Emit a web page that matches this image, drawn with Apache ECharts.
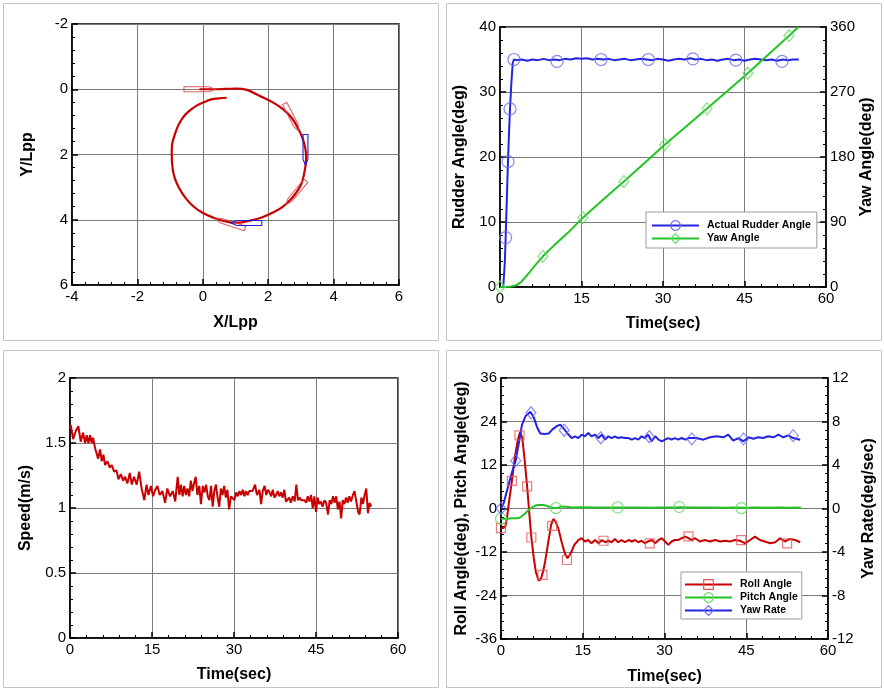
<!DOCTYPE html>
<html><head><meta charset="utf-8">
<script src="https://cdn.jsdelivr.net/npm/echarts@6/dist/echarts.min.js"></script>
<style>html,body{margin:0;padding:0;background:#fff}#c{width:884px;height:691px}</style>
</head><body><div id="c"></div>
<script>
// ---------- Panel 1: trajectory (X/Lpp, Y/Lpp) ----------
const trajectory = [[-0.1,0],[0.3,0],[0.7,-0.01],[1.02,-0.02],[1.35,0.02],[1.73,0.2],[2.1,0.38],[2.45,0.61],[2.72,0.88],[2.9,1.17],[3.05,1.5],[3.14,1.84],[3.16,2.1],[3.14,2.35],[3.09,2.63],[3.01,2.91],[2.85,3.18],[2.65,3.42],[2.42,3.62],[2.14,3.78],[1.8,3.93],[1.43,4.03],[1.1,4.09],[0.85,4.08],[0.6,4.03],[0.31,3.93],[-0.02,3.78],[-0.31,3.57],[-0.53,3.33],[-0.71,3.06],[-0.85,2.75],[-0.92,2.45],[-0.95,1.99],[-0.94,1.7],[-0.87,1.43],[-0.76,1.13],[-0.61,0.87],[-0.43,0.68],[-0.2,0.51],[0.03,0.4],[0.26,0.31],[0.5,0.28],[0.73,0.26]];
// ship poses [x, y, heading(deg)]
const redShips = [[-0.1,0,0],[2.72,0.86,63],[2.85,3.17,130],[0.84,4.12,198]];
const blueShips = [[3.14,1.86,90],[1.33,4.1,180]];

// ---------- Panel 2: rudder & yaw angle ----------
const rudderData = [[0,0],[0.6,0],[0.9,4],[1.04,7.6],[1.2,12],[1.47,19.3],[1.65,23.5],[1.84,27.4],[2.1,31.5],[2.35,34.5],[2.57,35],[3,34.9],[4,35.0],[5,34.8],[6,35.0],[7,34.9],[8,35.1],[9,34.9],[10,35.0],[11,34.9],[12,35.1],[13,35.0],[14,35.2],[15,35.1],[16,35.2],[17,35.0],[18,35.1],[19,35.0],[20,35.1],[21,34.9],[22,35.0],[23,35.1],[24,34.9],[25,35.0],[26,35.1],[27,35.0],[28,34.9],[29,35.1],[30,35.0],[31,34.8],[32,35.0],[33,35.1],[34,35.0],[35,35.2],[36,35.0],[37,35.1],[38,34.9],[39,35.0],[40,34.8],[41,35.0],[42,35.1],[43,34.9],[44,35.0],[45,34.8],[46,35.0],[47,35.1],[48,35.0],[49,34.9],[50,35.0],[51,34.8],[52,35.0],[53,34.9],[54,35.0],[55,35.0]];
const rudderMarks = [[1.04,7.6],[1.47,19.3],[1.84,27.4],[2.57,35],[10.5,34.7],[18.6,35],[27.3,35],[35.5,35.1],[43.4,34.9],[51.9,34.7]];
const yawData = [[0,0],[1,0.1],[2,0.6],[3,2.3],[3.8,6.5],[4.7,13.8],[5.5,21],[6.3,28.5],[7.1,35.5],[7.9,42.5],[10,58],[12.5,75],[15.25,96],[19,121],[22.8,146],[26.5,171],[30.3,197],[34.2,222],[38.1,247],[41.8,271],[45.6,296],[49.4,322],[53.2,348],[54.9,360]];
const yawMarks = [[0,0],[7.9,42.5],[15.25,96],[22.8,146],[30.3,197],[38.1,247],[45.6,296],[53.2,348]];

// ---------- Panel 3: speed ----------
const speedData = [[0,1.62],[0.13,1.64],[0.56,1.53],[1.04,1.59],[1.53,1.63],[1.96,1.51],[2.39,1.58],[2.76,1.50],[3.06,1.56],[3.37,1.50],[3.67,1.56],[3.98,1.50],[4.22,1.54],[4.59,1.46],[4.89,1.47],[5.14,1.38],[5.5,1.45],[5.81,1.36],[6.11,1.41],[6.42,1.33],[6.85,1.36],[7.27,1.31],[7.64,1.33],[8.07,1.28],[8.5,1.29],[8.86,1.22],[9.29,1.26],[9.72,1.21],[10.08,1.24],[10.5,1.19],[10.94,1.27],[11.3,1.18],[11.7,1.24],[12.2,1.18],[12.65,1.28],[13.1,1.15],[13.6,1.06],[14.0,1.18],[14.36,1.10],[14.8,1.17],[15.2,1.09],[15.6,1.14],[16.0,1.17],[16.4,1.10],[16.9,1.13],[17.4,1.04],[17.8,1.15],[18.3,1.09],[18.8,1.13],[19.25,1.05],[19.7,1.24],[20.0,1.10],[20.3,1.18],[20.6,1.09],[20.9,1.17],[21.2,1.10],[21.5,1.15],[21.8,1.09],[22.1,1.21],[22.4,1.13],[22.7,1.19],[23.0,1.24],[23.3,1.10],[23.65,1.17],[23.95,1.03],[24.3,1.17],[24.6,1.12],[24.9,1.18],[25.2,1.09],[25.5,1.06],[25.8,1.17],[26.1,1.01],[26.4,1.13],[26.7,1.18],[27.0,1.08],[27.3,1.01],[27.6,1.15],[27.9,1.10],[28.2,1.17],[28.5,1.08],[28.8,1.14],[29.1,0.99],[29.45,1.09],[29.75,1.10],[30.06,1.06],[30.4,1.12],[30.7,1.09],[31.0,1.13],[31.3,1.10],[31.6,1.14],[31.9,1.09],[32.2,1.13],[32.5,1.10],[32.8,1.13],[33.1,1.12],[33.4,1.13],[33.85,1.18],[34.2,1.10],[34.65,1.14],[34.95,1.03],[35.25,1.13],[35.6,1.17],[35.9,1.10],[36.2,1.14],[36.5,1.12],[36.8,1.09],[37.1,1.14],[37.4,1.08],[37.7,1.10],[38.0,1.13],[38.3,1.09],[38.6,1.12],[38.9,1.08],[39.2,1.14],[39.5,1.05],[39.8,1.06],[40.1,1.08],[40.4,1.04],[40.75,1.09],[41.1,1.05],[41.4,1.18],[41.7,1.06],[42.0,1.08],[42.3,1.06],[42.6,1.05],[42.9,1.06],[43.2,1.04],[43.5,1.09],[43.8,1.05],[44.1,1.10],[44.4,1.00],[44.7,1.09],[45.0,0.97],[45.3,1.08],[45.6,1.03],[45.9,1.05],[46.2,1.01],[46.55,1.06],[46.85,1.04],[47.2,0.95],[47.5,1.06],[47.8,1.03],[48.1,1.09],[48.4,1.04],[48.7,1.09],[49.0,0.99],[49.3,1.05],[49.6,0.92],[49.9,1.06],[50.2,1.03],[50.5,1.08],[50.8,1.04],[51.1,1.09],[51.4,1.05],[51.75,1.10],[52.05,1.13],[52.35,1.12],[52.7,0.97],[52.97,0.95],[53.3,1.08],[53.6,1.03],[53.9,1.10],[54.2,1.15],[54.5,0.96],[54.8,1.04],[55.1,1.01]];

// ---------- Panel 4: roll, pitch, yaw rate ----------
const rollData = [[0,-5.4],[0.4,-5.4],[0.8,-5.0],[1.1,-2.5],[1.4,1.0],[1.7,4.3],[2.0,7.6],[2.3,11.2],[2.6,14.8],[3.1,19.0],[3.5,21],[3.9,19.5],[4.3,14],[4.8,6],[5.2,-1.5],[5.57,-8],[6.0,-13.5],[6.4,-17.5],[6.9,-19.9],[7.3,-19.5],[7.7,-17.5],[8.1,-14.6],[8.7,-9],[9.2,-4.5],[9.6,-2.9],[10.0,-3.6],[10.5,-5.4],[11.1,-9.1],[11.7,-12.35],[12.2,-13.7],[12.8,-12.35],[13.45,-10.05],[14.2,-8.7],[14.8,-8.2],[15.4,-9.1],[16.0,-8.7],[16.6,-9.6],[17.25,-8.7],[17.9,-9.6],[18.5,-8.7],[19.1,-9.3],[19.7,-8.9],[20.3,-9.3],[20.9,-8.4],[21.5,-9.3],[22.1,-8.7],[22.75,-9.3],[23.4,-8.7],[24.0,-9.1],[24.6,-8.7],[25.2,-9.3],[25.8,-8.9],[26.4,-9.6],[27.0,-9.1],[27.65,-8.7],[28.3,-9.6],[28.9,-8.7],[29.5,-8.2],[30.1,-9.1],[30.7,-10.05],[31.3,-9.1],[31.9,-8.7],[32.5,-8.7],[33.15,-8.2],[33.8,-7.75],[34.4,-8.2],[35.0,-8.7],[35.6,-8.2],[36.5,-9.1],[37.4,-8.7],[38.35,-9.1],[39.3,-8.7],[40.2,-9.1],[41.1,-8.9],[42.0,-9.1],[42.9,-8.7],[43.85,-8.9],[44.8,-9.6],[45.7,-8.7],[46.6,-7.75],[47.5,-8.7],[48.4,-9.1],[49.4,-9.6],[50.3,-9.3],[51.2,-8.2],[52.1,-9.1],[53.0,-8.4],[53.95,-8.7],[54.9,-9.3]];
const rollMarks = [[0,-5.4],[2.0,7.6],[3.4,20.2],[4.8,6.1],[5.57,-8],[7.6,-18.3],[9.4,-4.8],[12.1,-14.2],[18.8,-8.9],[27.3,-9.6],[34.4,-7.7],[44.1,-8.7],[52.5,-9.6]];
const pitchData = [[0,-2.8],[1,-2.8],[2,-2.7],[3,-2.7],[3.5,-2.5],[3.85,-2.2],[4.3,-1.6],[4.8,-0.8],[5.2,-0.2],[5.7,0.3],[6.3,0.8],[6.9,1.0],[7.8,1.0],[8.75,0.55],[9.4,0.2],[10.1,0.1],[10.6,0.3],[11.2,0.55],[12,0.5],[13,0.3],[15,0.35],[17,0.3],[19,0.25],[21,0.3],[23,0.25],[25,0.3],[27,0.2],[29,0.3],[31,0.25],[33,0.35],[35,0.3],[37,0.25],[39,0.3],[41,0.2],[43,0.25],[45,0.2],[47,0.25],[49,0.2],[51,0.3],[53,0.2],[55,0.3]];
const pitchMarks = [[0,-2.8],[10.1,0.1],[21.4,0.3],[32.7,0.4],[44.1,0.1]];
const yawRateData = [[0,0],[0.5,0.5],[1.4,2.2],[2.0,3.3],[2.7,4.4],[3.2,5.8],[3.85,7.7],[4.5,8.5],[5.4,8.9],[6.0,8.4],[6.6,7.5],[7.2,6.9],[8.0,6.85],[8.75,6.9],[9.5,7.3],[10.3,7.6],[10.9,7.7],[11.6,7.3],[12.2,6.9],[12.97,6.48],[13.6,6.64],[14.2,6.48],[14.8,6.79],[15.4,6.64],[16.0,6.94],[16.6,6.64],[17.25,6.79],[17.9,6.48],[18.5,6.79],[19.1,6.33],[19.7,6.64],[20.3,6.48],[20.9,6.64],[21.5,6.48],[22.1,6.55],[22.75,6.48],[23.4,6.48],[24.0,6.33],[24.6,6.48],[25.2,6.33],[25.8,6.64],[26.4,6.48],[27.0,6.79],[27.65,6.18],[28.3,6.64],[28.9,6.33],[29.5,6.18],[30.1,6.33],[30.7,6.48],[31.3,6.33],[31.9,6.48],[32.5,6.33],[33.15,6.48],[33.8,6.33],[34.4,6.48],[35.9,6.48],[37.1,6.33],[38.35,6.55],[39.6,6.64],[40.8,6.55],[41.7,6.79],[42.6,6.24],[43.55,6.48],[44.5,6.18],[45.4,6.55],[46.3,6.42],[47.2,6.55],[48.1,6.48],[49.05,6.64],[50.0,6.55],[50.9,6.79],[51.8,6.55],[52.7,6.73],[53.6,6.48],[54.9,6.33]];
const yawRateMarks = [[0,0],[2.7,4.4],[5.5,8.8],[11.6,7.2],[18.3,6.5],[27.2,6.6],[35,6.4],[44.5,6.4],[53.6,6.7]];

// ---------- styling ----------
const FF = 'Liberation Sans, Arial, Helvetica, sans-serif';
const RED = '#c80000', GREEN = '#22c322', BLUE = '#2323e0';
const RED_M = '#e05a5a', GREEN_M = '#66d966', BLUE_M = '#6a6af0';

function ax(extra) {
  return Object.assign({
    type: 'value',
    axisLine: { show: true, onZero: false, lineStyle: { color: '#000', width: 1.5 } },
    axisTick: { show: true, inside: true, length: 6, lineStyle: { color: '#000', width: 1.5 } },
    minorTick: { show: true, splitNumber: 5, length: 3, lineStyle: { color: '#000', width: 1 } },
    axisLabel: { color: '#000', fontSize: 15, fontFamily: FF, margin: 4 },
    splitLine: { show: true, lineStyle: { color: '#7a7a7a', width: 1 } },
    nameLocation: 'middle',
    nameTextStyle: { color: '#000', fontSize: 16, fontWeight: 'bold', fontFamily: FF }
  }, extra);
}

function shipRender(color) {
  return function (params, api) {
    const x = api.value(0), y = api.value(1), h = api.value(2) * Math.PI / 180;
    const L = 0.95, B = 0.15;
    const c = Math.cos(h), s = Math.sin(h);
    const local = [[-L / 2, -B / 2], [0.3 * L, -B / 2], [L / 2, 0], [0.3 * L, B / 2], [-L / 2, B / 2]];
    const pts = local.map(p => api.coord([x + p[0] * c - p[1] * s, y + p[0] * s + p[1] * c]));
    return { type: 'polygon', shape: { points: pts }, style: { fill: 'none', stroke: color, lineWidth: 1.1 } };
  };
}

function lineS(name, xi, yi, data, color, symbol) {
  return { name: name, type: 'line', xAxisIndex: xi, yAxisIndex: yi, data: data,
    symbol: symbol || 'none', symbolSize: 10, showSymbol: false, silent: true,
    lineStyle: { color: color, width: 2 }, itemStyle: { color: color }, z: 3 };
}
function markS(xi, yi, data, color, symbol, size) {
  return { type: 'scatter', xAxisIndex: xi, yAxisIndex: yi, data: data, symbol: symbol, symbolSize: size,
    silent: true, clip: false, z: 4,
    itemStyle: { color: 'transparent', borderColor: color, borderWidth: 1.2 } };
}

const chart = echarts.init(document.getElementById('c'), null, { renderer: 'canvas' });
const gridCommon = { show: true, borderColor: '#000', borderWidth: 1.5, backgroundColor: 'transparent', containLabel: false };

const option = {
  animation: false,
  backgroundColor: '#fff',
  graphic: [
    { type: 'rect', shape: { x: 3.5, y: 3.5, width: 435, height: 337 }, style: { fill: 'none', stroke: '#c4c4c4', lineWidth: 1 }, z: -1 },
    { type: 'rect', shape: { x: 446.5, y: 3.5, width: 435, height: 337 }, style: { fill: 'none', stroke: '#c4c4c4', lineWidth: 1 }, z: -1 },
    { type: 'rect', shape: { x: 3.5, y: 350.5, width: 435, height: 337 }, style: { fill: 'none', stroke: '#c4c4c4', lineWidth: 1 }, z: -1 },
    { type: 'rect', shape: { x: 446.5, y: 350.5, width: 435, height: 337 }, style: { fill: 'none', stroke: '#c4c4c4', lineWidth: 1 }, z: -1 }
  ],
  grid: [
    Object.assign({ left: 72, top: 24, width: 327, height: 261 }, gridCommon),
    Object.assign({ left: 500, top: 27, width: 326, height: 260 }, gridCommon),
    Object.assign({ left: 70, top: 378, width: 328, height: 260 }, gridCommon),
    Object.assign({ left: 501, top: 378, width: 327, height: 261 }, gridCommon)
  ],
  xAxis: [
    ax({ gridIndex: 0, min: -4, max: 6, interval: 2, name: 'X/Lpp', nameGap: 30 }),
    ax({ gridIndex: 1, min: 0, max: 60, interval: 15, name: 'Time(sec)', nameGap: 29 }),
    ax({ gridIndex: 2, min: 0, max: 60, interval: 15, name: 'Time(sec)', nameGap: 29 }),
    ax({ gridIndex: 3, min: 0, max: 60, interval: 15, name: 'Time(sec)', nameGap: 30 })
  ],
  yAxis: [
    ax({ gridIndex: 0, min: -2, max: 6, interval: 2, inverse: true, name: 'Y/Lpp', nameGap: 36 }),
    ax({ gridIndex: 1, min: 0, max: 40, interval: 10, name: 'Rudder Angle(deg)', nameGap: 32 }),
    ax({ gridIndex: 1, min: 0, max: 360, interval: 90, position: 'right', name: 'Yaw Angle(deg)', nameGap: 33, nameRotate: 90, splitLine: { show: false } }),
    ax({ gridIndex: 2, min: 0, max: 2, interval: 0.5, name: 'Speed(m/s)', nameGap: 36 }),
    ax({ gridIndex: 3, min: -36, max: 36, interval: 12, name: 'Roll Angle(deg), Pitch Angle(deg)', nameGap: 31 }),
    ax({ gridIndex: 3, min: -12, max: 12, interval: 4, position: 'right', name: 'Yaw Rate(deg/sec)', nameGap: 33, nameRotate: 90, splitLine: { show: false } })
  ],
  legend: [
    {
      data: [
        { name: 'Actual Rudder Angle', itemStyle: { color: 'transparent', borderColor: BLUE_M, borderWidth: 1.2 } },
        { name: 'Yaw Angle', itemStyle: { color: 'transparent', borderColor: GREEN_M, borderWidth: 1.2 } }
      ],
      left: 646, top: 212, orient: 'vertical', itemWidth: 47, itemHeight: 12, itemGap: 2,
      padding: [8, 6, 4, 5], backgroundColor: '#fff', borderColor: '#9a9a9a', borderWidth: 1,
      selectedMode: false,
      textStyle: { fontSize: 10.5, fontWeight: 'bold', fontFamily: FF, color: '#000', padding: [0, 0, 0, 3] }
    },
    {
      data: [
        { name: 'Roll Angle', itemStyle: { color: 'transparent', borderColor: RED_M, borderWidth: 1.2 } },
        { name: 'Pitch Angle', itemStyle: { color: 'transparent', borderColor: GREEN_M, borderWidth: 1.2 } },
        { name: 'Yaw Rate', itemStyle: { color: 'transparent', borderColor: BLUE_M, borderWidth: 1.2 } }
      ],
      left: 681, top: 572, orient: 'vertical', itemWidth: 47, itemHeight: 12, itemGap: 2,
      padding: [7, 4, 3, 3], backgroundColor: '#fff', borderColor: '#9a9a9a', borderWidth: 1,
      selectedMode: false,
      textStyle: { fontSize: 10.5, fontWeight: 'bold', fontFamily: FF, color: '#000', padding: [0, 0, 0, 3] }
    }
  ],
  series: [
    // panel 1
    { type: 'line', xAxisIndex: 0, yAxisIndex: 0, data: trajectory, smooth: 0.4, symbol: 'none', silent: true,
      lineStyle: { color: RED, width: 2.2 }, z: 3 },
    { type: 'custom', xAxisIndex: 0, yAxisIndex: 0, data: redShips, renderItem: shipRender('rgba(215,70,70,0.85)'),
      encode: { x: 0, y: 1 }, silent: true, z: 4 },
    { type: 'custom', xAxisIndex: 0, yAxisIndex: 0, data: blueShips, renderItem: shipRender('#2020d8'),
      encode: { x: 0, y: 1 }, silent: true, z: 4 },
    // panel 2
    lineS('Actual Rudder Angle', 1, 1, rudderData, BLUE, 'circle'),
    markS(1, 1, rudderMarks, BLUE_M, 'circle', 12),
    lineS('Yaw Angle', 1, 2, yawData, GREEN, 'diamond'),
    markS(1, 2, yawMarks, GREEN_M, 'diamond', [10, 12]),
    // panel 3
    { type: 'line', xAxisIndex: 2, yAxisIndex: 3, data: speedData, symbol: 'none', silent: true,
      lineStyle: { color: RED, width: 2 }, z: 3 },
    // panel 4
    lineS('Roll Angle', 3, 4, rollData, RED, 'rect'),
    markS(3, 4, rollMarks, RED_M, 'rect', 9),
    lineS('Pitch Angle', 3, 4, pitchData, GREEN, 'circle'),
    markS(3, 4, pitchMarks, GREEN_M, 'circle', 11),
    lineS('Yaw Rate', 3, 5, yawRateData, BLUE, 'diamond'),
    markS(3, 5, yawRateMarks, BLUE_M, 'diamond', [10, 12])
  ]
};
chart.setOption(option);
</script>
</body></html>
